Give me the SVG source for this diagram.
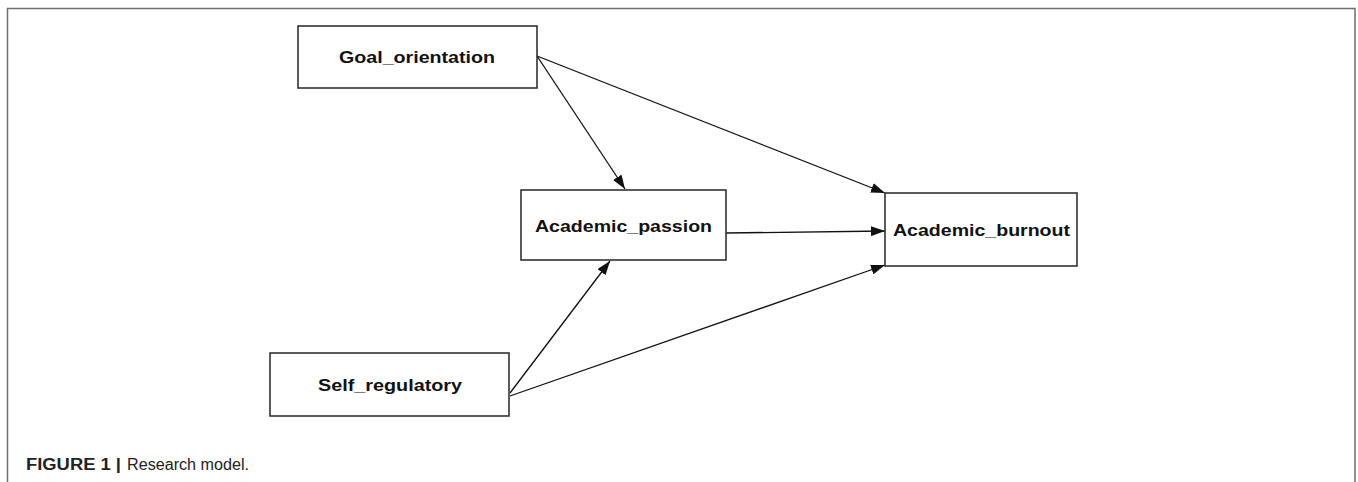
<svg xmlns="http://www.w3.org/2000/svg" width="1358" height="482" viewBox="0 0 1358 482">
<style>
.frame{fill:none;stroke:#6e6e6e;stroke-width:1.5}
.box{fill:#ffffff;stroke:#333333;stroke-width:1.6}
.lbl{font-family:"Liberation Sans",Arial,sans-serif;font-weight:bold;font-size:16px;fill:#111111}
.edge{stroke:#111111;stroke-width:1.3;fill:none;marker-end:url(#ah)}
.cap{font-family:"Liberation Sans Narrow","Liberation Sans",Arial,sans-serif;font-size:16px;fill:#222222}
</style>
<defs>
<marker id="ah" markerUnits="userSpaceOnUse" markerWidth="15" markerHeight="10" refX="14" refY="5" orient="auto">
<path d="M0,0 L14,5 L0,10 z" fill="#111111"/>
</marker>
</defs>
<rect width="1358" height="482" fill="#ffffff"/>
<path class="frame" d="M7.5,482 L7.5,8.5 L1355,8.5 L1355,482"/>
<g id="connectors">
<line class="edge" x1="537" y1="56" x2="625" y2="189"/>
<line class="edge" x1="537" y1="56" x2="885" y2="193"/>
<line class="edge" x1="726" y1="233" x2="885" y2="231"/>
<line class="edge" x1="510" y1="393" x2="610" y2="261"/>
<line class="edge" x1="510" y1="396" x2="885" y2="265"/>
</g>
<g id="goal_orientation">
<rect class="box" x="298" y="26" width="239" height="62"/>
<text class="lbl" x="339" y="63" textLength="156" lengthAdjust="spacingAndGlyphs">Goal_orientation</text>
</g>
<g id="academic_passion">
<rect class="box" x="521" y="190" width="205" height="70"/>
<text class="lbl" x="535" y="232" textLength="177" lengthAdjust="spacingAndGlyphs">Academic_passion</text>
</g>
<g id="academic_burnout">
<rect class="box" x="885" y="193" width="192" height="73"/>
<text class="lbl" x="893" y="236" textLength="177" lengthAdjust="spacingAndGlyphs">Academic_burnout</text>
</g>
<g id="self_regulatory">
<rect class="box" x="270" y="353" width="239" height="63"/>
<text class="lbl" x="318" y="391" textLength="144" lengthAdjust="spacingAndGlyphs">Self_regulatory</text>
</g>
<g id="caption">
<text class="cap" x="26" y="470" font-weight="bold" textLength="95" lengthAdjust="spacingAndGlyphs">FIGURE 1 |</text>
<text class="cap" x="127" y="470" textLength="122" lengthAdjust="spacingAndGlyphs">Research model.</text>
</g>
</svg>
